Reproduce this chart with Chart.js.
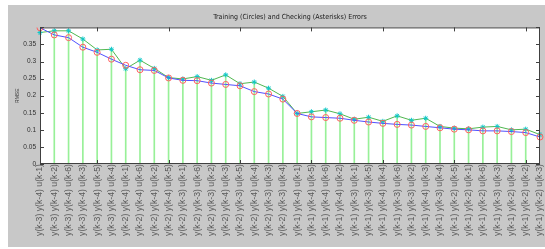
<!DOCTYPE html>
<html lang="en">
<head>
<meta charset="UTF-8" />
<title>Training and Checking Errors</title>
<script src="https://cdn.jsdelivr.net/npm/chart.js"></script>
<style>
  body { margin: 0; background: #fff; }
  .wrap { position: relative; width: 545px; height: 249px; }
</style>
</head>
<body>
<div class="wrap"><canvas id="errChart"></canvas></div>
<script>
// input combinations, sorted by training error
const inputLabels = [
  'y(k-3) y(k-4) u(k-1)', 'y(k-3) y(k-4) u(k-2)', 'y(k-3) y(k-4) u(k-6)', 'y(k-3) y(k-4) u(k-3)',
  'y(k-3) y(k-4) u(k-5)', 'y(k-3) y(k-4) u(k-4)', 'y(k-2) y(k-4) u(k-1)', 'y(k-2) y(k-4) u(k-6)',
  'y(k-2) y(k-4) u(k-2)', 'y(k-2) y(k-4) u(k-5)', 'y(k-2) y(k-3) u(k-1)', 'y(k-2) y(k-3) u(k-6)',
  'y(k-2) y(k-3) u(k-2)', 'y(k-2) y(k-4) u(k-3)', 'y(k-2) y(k-3) u(k-5)', 'y(k-2) y(k-4) u(k-4)',
  'y(k-2) y(k-3) u(k-3)', 'y(k-2) y(k-3) u(k-4)', 'y(k-1) y(k-4) u(k-1)', 'y(k-1) y(k-4) u(k-5)',
  'y(k-1) y(k-4) u(k-6)', 'y(k-1) y(k-4) u(k-2)', 'y(k-1) y(k-3) u(k-1)', 'y(k-1) y(k-3) u(k-5)',
  'y(k-1) y(k-4) u(k-4)', 'y(k-1) y(k-3) u(k-6)', 'y(k-1) y(k-3) u(k-2)', 'y(k-1) y(k-4) u(k-3)',
  'y(k-1) y(k-3) u(k-4)', 'y(k-1) y(k-2) u(k-5)', 'y(k-1) y(k-2) u(k-1)', 'y(k-1) y(k-2) u(k-6)',
  'y(k-1) y(k-3) u(k-3)', 'y(k-1) y(k-2) u(k-4)', 'y(k-1) y(k-2) u(k-2)', 'y(k-1) y(k-2) u(k-3)'
];

const trnError = [
  0.399, 0.378, 0.370, 0.342, 0.327, 0.307, 0.289, 0.276, 0.274, 0.252, 0.245, 0.244,
  0.237, 0.233, 0.229, 0.212, 0.205, 0.190, 0.148, 0.138, 0.136, 0.134, 0.128, 0.123,
  0.119, 0.116, 0.114, 0.110, 0.106, 0.102, 0.100, 0.097, 0.097, 0.095, 0.092, 0.079
];

const chkError = [
  0.385, 0.390, 0.390, 0.366, 0.334, 0.336, 0.279, 0.304, 0.280, 0.253, 0.249, 0.256,
  0.245, 0.261, 0.235, 0.240, 0.222, 0.198, 0.148, 0.153, 0.158, 0.147, 0.131, 0.137,
  0.125, 0.141, 0.128, 0.134, 0.110, 0.105, 0.103, 0.108, 0.110, 0.100, 0.102, 0.086
];

const boxTicks = [5, 10, 15, 20, 25, 30, 35];

const matlabFrame = {
  id: 'matlabFrame',
  beforeDraw(chart) {
    const { ctx, chartArea: a } = chart;
    ctx.save();
    ctx.fillStyle = '#c8c8c8';
    ctx.fillRect(8, 5, chart.width - 8, chart.height - 7);
    ctx.fillStyle = '#ffffff';
    ctx.fillRect(a.left, a.top, a.right - a.left, a.bottom - a.top);
    ctx.restore();
  },
  afterDraw(chart) {
    const { ctx, chartArea: a, scales: { x, y } } = chart;
    ctx.save();
    ctx.strokeStyle = '#404040';
    ctx.lineWidth = 1;
    ctx.strokeRect(a.left + 0.5, a.top + 0.5, a.right - a.left - 1, a.bottom - a.top - 1);
    ctx.beginPath();
    y.ticks.forEach(t => {
      const py = Math.round(y.getPixelForValue(t.value)) + 0.5;
      ctx.moveTo(a.left, py); ctx.lineTo(a.left + 4, py);
      ctx.moveTo(a.right, py); ctx.lineTo(a.right - 4, py);
    });
    boxTicks.forEach(v => {
      const px = Math.round(x.getPixelForValue(v - 1)) + 0.5;
      ctx.moveTo(px, a.top); ctx.lineTo(px, a.top + 4);
      ctx.moveTo(px, a.bottom); ctx.lineTo(px, a.bottom - 4);
    });
    ctx.stroke();
    ctx.restore();
  }
};

new Chart(document.getElementById('errChart'), {
  type: 'line',
  data: {
    labels: inputLabels,
    datasets: [
      {
        label: 'Training',
        data: trnError,
        borderColor: '#5050ff',
        borderWidth: 1,
        pointStyle: 'circle',
        pointRadius: 3,
        pointBorderColor: '#ff6060',
        pointBackgroundColor: 'rgba(0,0,0,0)',
        pointBorderWidth: 1,
        tension: 0,
        order: 1
      },
      {
        label: 'Checking',
        data: chkError,
        borderColor: '#50b850',
        borderWidth: 1,
        pointStyle: 'star',
        pointRadius: 2.5,
        pointBorderColor: '#10c8c8',
        pointBorderWidth: 1,
        tension: 0,
        order: 2
      },
      {
        type: 'bar',
        label: 'stems',
        data: chkError,
        backgroundColor: '#98f098',
        barThickness: 1,
        order: 3
      }
    ]
  },
  options: {
    responsive: true,
    maintainAspectRatio: false,
    animation: false,
    layout: { padding: { left: 0, right: 2, top: 0, bottom: 0 } },
    plugins: {
      legend: { display: false },
      tooltip: { enabled: false },
      title: {
        display: true,
        fullSize: false,
        text: 'Training (Circles) and Checking (Asterisks) Errors',
        color: '#202020',
        font: { family: '"Liberation Sans Narrow", "DejaVu Sans Condensed", "Liberation Sans", Arial, sans-serif', size: 7, weight: 'normal' },
        padding: { top: 13, bottom: 6 }
      }
    },
    scales: {
      x: {
        offset: false,
        grid: { display: false, drawTicks: false },
        border: { display: false },
        ticks: {
          autoSkip: false,
          minRotation: 90,
          maxRotation: 90,
          padding: 0,
          color: '#5a5a5a',
          font: { family: '"Liberation Sans", Arial, sans-serif', size: 8.7 }
        },
        afterFit(s) { s.height = 85; s.paddingLeft = 0; s.paddingRight = 0; }
      },
      y: {
        min: 0,
        max: 0.4,
        grid: { display: false, drawTicks: false },
        border: { display: false },
        ticks: {
          stepSize: 0.05,
          padding: 4,
          color: '#303030',
          font: { family: '"Liberation Sans", Arial, sans-serif', size: 6.5 },
          callback: v => (v > 0.39 ? '' : String(+v.toFixed(2)))
        },
        title: {
          display: true,
          text: 'RMSE',
          color: '#303030',
          font: { family: '"Liberation Sans", Arial, sans-serif', size: 5 },
          padding: { top: 15 }
        },
        afterFit(s) { s.width = 40; }
      }
    }
  },
  plugins: [matlabFrame]
});
</script>
</body>
</html>
